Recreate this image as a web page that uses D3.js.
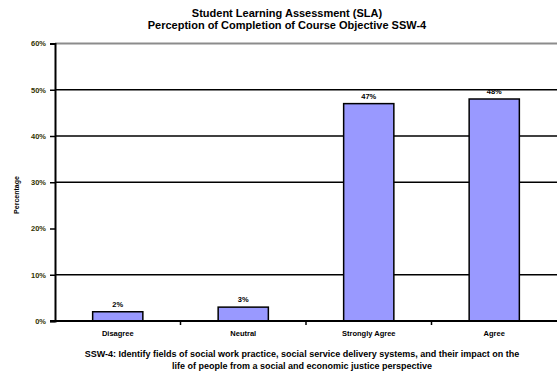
<!DOCTYPE html>
<html>
<head>
<meta charset="utf-8">
<script src="https://cdn.jsdelivr.net/npm/d3@7"></script>
<style>
  html, body { margin: 0; padding: 0; background: #fff; }
  text { font-family: "Liberation Sans", Arial, sans-serif; font-weight: bold; }
</style>
</head>
<body>
<svg id="chart" width="557" height="377"></svg>
<script>
// Survey responses for the course objective
const categories = ["Disagree", "Neutral", "Strongly Agree", "Agree"];
const values = [2, 3, 47, 48];
const yTicks = [0, 10, 20, 30, 40, 50, 60];
const gridTicks = [10, 30, 40, 50];
const titleLines = ["Student Learning Assessment (SLA)", "Perception of Completion of Course Objective SSW-4"];
const footLines = [
  "SSW-4: Identify fields of social work practice, social service delivery systems, and their impact on the",
  "life of people from a social and economic justice perspective"
];

const svg = d3.select("#chart");
const plotLeft = 55, plotRight = 557, plotTop = 43.5, plotBottom = 321;

const x = d3.scaleBand().domain(categories).range([plotLeft, plotRight]).paddingInner(0.6).paddingOuter(0.3);
const xOuter = d3.scaleBand().domain(categories).range([plotLeft, plotRight]);
const y = d3.scaleLinear().domain([0, 60]).range([plotBottom, plotTop]);

// top border of plot area
svg.append("line")
  .attr("x1", plotLeft).attr("x2", plotRight)
  .attr("y1", y(60)).attr("y2", y(60))
  .attr("stroke", "#8c8c8c").attr("stroke-width", 2);

// gridlines
svg.selectAll(".grid").data(gridTicks).join("line")
  .attr("x1", plotLeft).attr("x2", plotRight)
  .attr("y1", d => y(d)).attr("y2", d => y(d))
  .attr("stroke", "#000").attr("stroke-width", 1.5);

// bars
svg.selectAll(".bar").data(values).join("rect")
  .attr("x", (d, i) => x(categories[i]))
  .attr("width", x.bandwidth())
  .attr("y", d => y(d))
  .attr("height", d => y(0) - y(d))
  .attr("fill", "#9999ff")
  .attr("stroke", "#000").attr("stroke-width", 1.5);

// value labels
svg.selectAll(".val").data(values).join("text")
  .attr("x", (d, i) => x(categories[i]) + x.bandwidth() / 2)
  .attr("y", d => y(d) - 5)
  .attr("text-anchor", "middle")
  .attr("font-size", 7.5)
  .attr("fill", "#000")
  .text(d => d + "%");

// y axis
const yAxis = d3.axisLeft(y).tickValues(yTicks).tickSize(5).tickFormat(d => d + "%");
const gy = svg.append("g").attr("transform", `translate(${plotLeft},0)`).call(yAxis);
gy.select(".domain").attr("stroke", "#000").attr("stroke-width", 2);
gy.selectAll(".tick line").attr("stroke", "#000").attr("stroke-width", 1.5);
gy.selectAll(".tick text").attr("font-size", 7.5).attr("fill", "#333300").attr("x", -9)
  .style("font-family", "Liberation Sans, Arial, sans-serif").style("font-weight", "bold");

// x axis
const gx = svg.append("g").attr("transform", `translate(0,${plotBottom})`);
gx.append("line").attr("x1", plotLeft - 5).attr("x2", plotRight).attr("y1", 0).attr("y2", 0)
  .attr("stroke", "#000").attr("stroke-width", 2);
gx.selectAll(".xt").data(categories.slice(1)).join("line")
  .attr("x1", d => xOuter(d)).attr("x2", d => xOuter(d))
  .attr("y1", 0).attr("y2", 4)
  .attr("stroke", "#000").attr("stroke-width", 1.5);
gx.selectAll(".xl").data(categories).join("text")
  .attr("x", d => xOuter(d) + xOuter.bandwidth() / 2)
  .attr("y", 15)
  .attr("text-anchor", "middle")
  .attr("font-size", 7.5)
  .attr("fill", "#000")
  .text(d => d);

// y axis title
svg.append("text")
  .attr("transform", `translate(19,195) rotate(-90)`)
  .attr("text-anchor", "middle")
  .attr("font-size", 7)
  .text("Percentage");

// title
svg.selectAll(".title").data(titleLines).join("text")
  .attr("x", 287).attr("y", (d, i) => 17 + i * 11.5)
  .attr("text-anchor", "middle")
  .attr("font-size", 11)
  .text(d => d);

// footnote
svg.selectAll(".foot").data(footLines).join("text")
  .attr("x", 302).attr("y", (d, i) => 357 + i * 11.5)
  .attr("text-anchor", "middle")
  .attr("font-size", 9)
  .text(d => d);
</script>
</body>
</html>
